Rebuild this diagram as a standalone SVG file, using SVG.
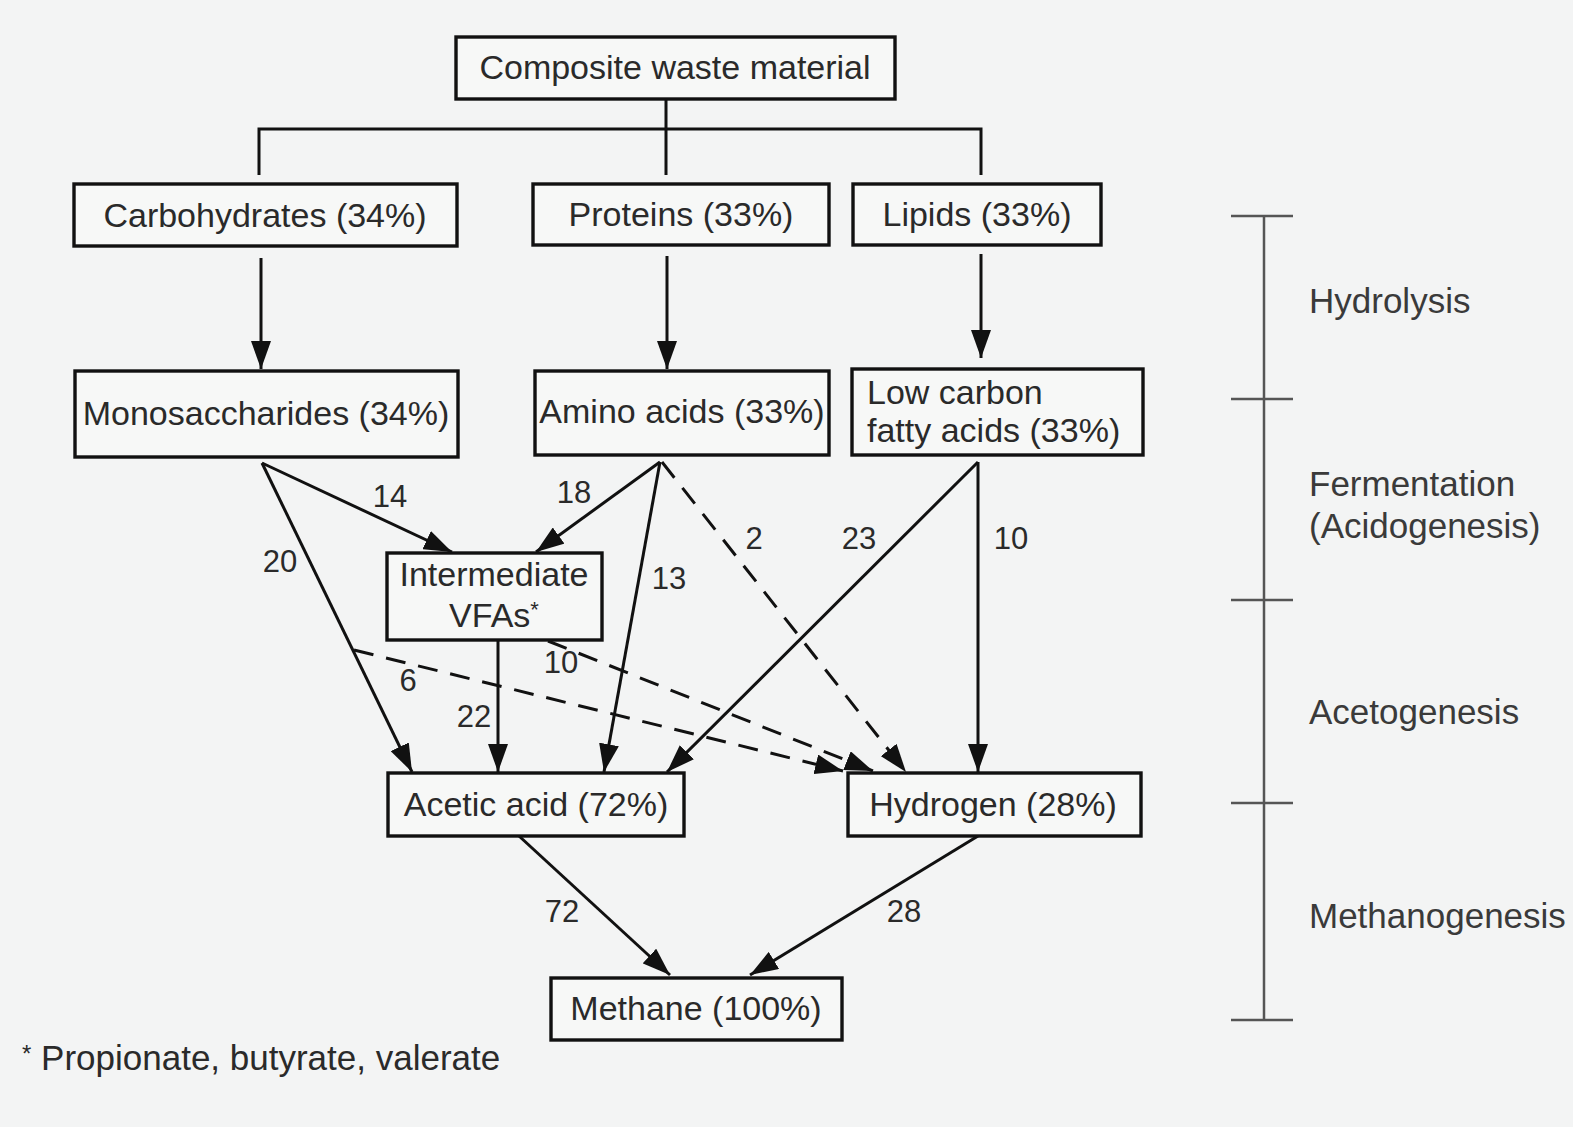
<svg xmlns="http://www.w3.org/2000/svg" width="1573" height="1127" viewBox="0 0 1573 1127">
<defs>
<style>
.box{fill:#f7f8f7;stroke:#111;stroke-width:3.4}
.t{font-family:"Liberation Sans",Arial,sans-serif;font-size:34px;fill:#2a2a2a}
.c{text-anchor:middle}
.n{font-family:"Liberation Sans",Arial,sans-serif;font-size:31px;fill:#2a2a2a;text-anchor:middle}
.s{font-family:"Liberation Sans",Arial,sans-serif;font-size:35px;fill:#3a3a3a}
.ln{stroke:#111;stroke-width:3;fill:none}
.ar{stroke:#111;stroke-width:3;fill:none;marker-end:url(#ah)}
.da{stroke:#111;stroke-width:3;fill:none;stroke-dasharray:20 13;marker-end:url(#ah)}
.sc{stroke:#555;stroke-width:2.5;fill:none}
</style>
<marker id="ah" markerUnits="userSpaceOnUse" markerWidth="28" markerHeight="20" refX="28" refY="10" orient="auto">
<path d="M0,0 L28,10 L0,20 z" fill="#111"/>
</marker>
</defs>
<rect x="0" y="0" width="1573" height="1127" fill="#f3f4f4"/>

<g id="connectors">
<path class="ln" d="M666,99 V129 M259,175 V129 H981 V175 M666,129 V175"/>
<line class="ar" x1="261" y1="258" x2="261" y2="369"/>
<line class="ar" x1="667" y1="256" x2="667" y2="369"/>
<line class="ar" x1="981" y1="254" x2="981" y2="358"/>
<line class="ar" x1="262" y1="463" x2="412" y2="772"/>
<line class="ar" x1="262" y1="463" x2="452" y2="552"/>
<line class="da" x1="354" y1="650" x2="843" y2="771"/>
<line class="ar" x1="660" y1="462" x2="536" y2="552"/>
<line class="ar" x1="660" y1="462" x2="604" y2="772"/>
<line class="da" x1="662" y1="462" x2="906" y2="772"/>
<line class="ar" x1="498" y1="641" x2="498" y2="772"/>
<line class="da" x1="548" y1="641" x2="873" y2="771"/>
<line class="ar" x1="978" y1="462" x2="667" y2="772"/>
<line class="ar" x1="978" y1="462" x2="978" y2="772"/>
<line class="ar" x1="519" y1="836" x2="670" y2="975"/>
<line class="ar" x1="978" y1="836" x2="750" y2="975"/>
<text class="n" x="390" y="507">14</text>
<text class="n" x="280" y="572">20</text>
<text class="n" x="574" y="503">18</text>
<text class="n" x="669" y="589">13</text>
<text class="n" x="754" y="549">2</text>
<text class="n" x="859" y="549">23</text>
<text class="n" x="1011" y="549">10</text>
<text class="n" x="561" y="673">10</text>
<text class="n" x="408" y="691">6</text>
<text class="n" x="474" y="727">22</text>
<text class="n" x="562" y="922">72</text>
<text class="n" x="904" y="922">28</text>
</g>

<g id="composite"><rect class="box" x="456" y="37" width="439" height="62"/><text class="t c" x="675" y="79">Composite waste material</text></g>
<g id="carbohydrates"><rect class="box" x="74" y="184" width="383" height="62"/><text class="t c" x="265" y="227">Carbohydrates (34%)</text></g>
<g id="proteins"><rect class="box" x="533" y="184" width="296" height="61"/><text class="t c" x="681" y="226">Proteins (33%)</text></g>
<g id="lipids"><rect class="box" x="853" y="184" width="248" height="61"/><text class="t c" x="977" y="226">Lipids (33%)</text></g>
<g id="monosaccharides"><rect class="box" x="75" y="371" width="383" height="86"/><text class="t c" x="266" y="425">Monosaccharides (34%)</text></g>
<g id="amino"><rect class="box" x="535" y="371" width="294" height="84"/><text class="t c" x="682" y="423">Amino acids (33%)</text></g>
<g id="fatty"><rect class="box" x="852" y="369" width="291" height="86"/><text class="t" x="867" y="404">Low carbon</text><text class="t" x="867" y="442">fatty acids (33%)</text></g>
<g id="vfas"><rect class="box" x="387" y="553" width="215" height="87"/><text class="t c" x="494" y="586">Intermediate</text><text class="t c" x="494" y="627">VFAs<tspan font-size="22" dy="-10">*</tspan></text></g>
<g id="acetic"><rect class="box" x="388" y="773" width="296" height="63"/><text class="t c" x="536" y="816">Acetic acid (72%)</text></g>
<g id="hydrogen"><rect class="box" x="848" y="773" width="293" height="63"/><text class="t c" x="993" y="816">Hydrogen (28%)</text></g>
<g id="methane"><rect class="box" x="551" y="978" width="291" height="62"/><text class="t c" x="696" y="1020">Methane (100%)</text></g>

<g id="stages">
<path class="sc" d="M1264,216 V1020 M1231,216 H1293 M1231,399 H1293 M1231,600 H1293 M1231,803 H1293 M1231,1020 H1293"/>
<text class="s" x="1309" y="313">Hydrolysis</text>
<text class="s" x="1309" y="496">Fermentation</text>
<text class="s" x="1309" y="538">(Acidogenesis)</text>
<text class="s" x="1309" y="724">Acetogenesis</text>
<text class="s" x="1309" y="928">Methanogenesis</text>
</g>

<text class="t" x="22" y="1070" style="font-size:35px"><tspan font-size="24" dy="-8">*</tspan><tspan dy="8"> Propionate, butyrate, valerate</tspan></text>
</svg>
